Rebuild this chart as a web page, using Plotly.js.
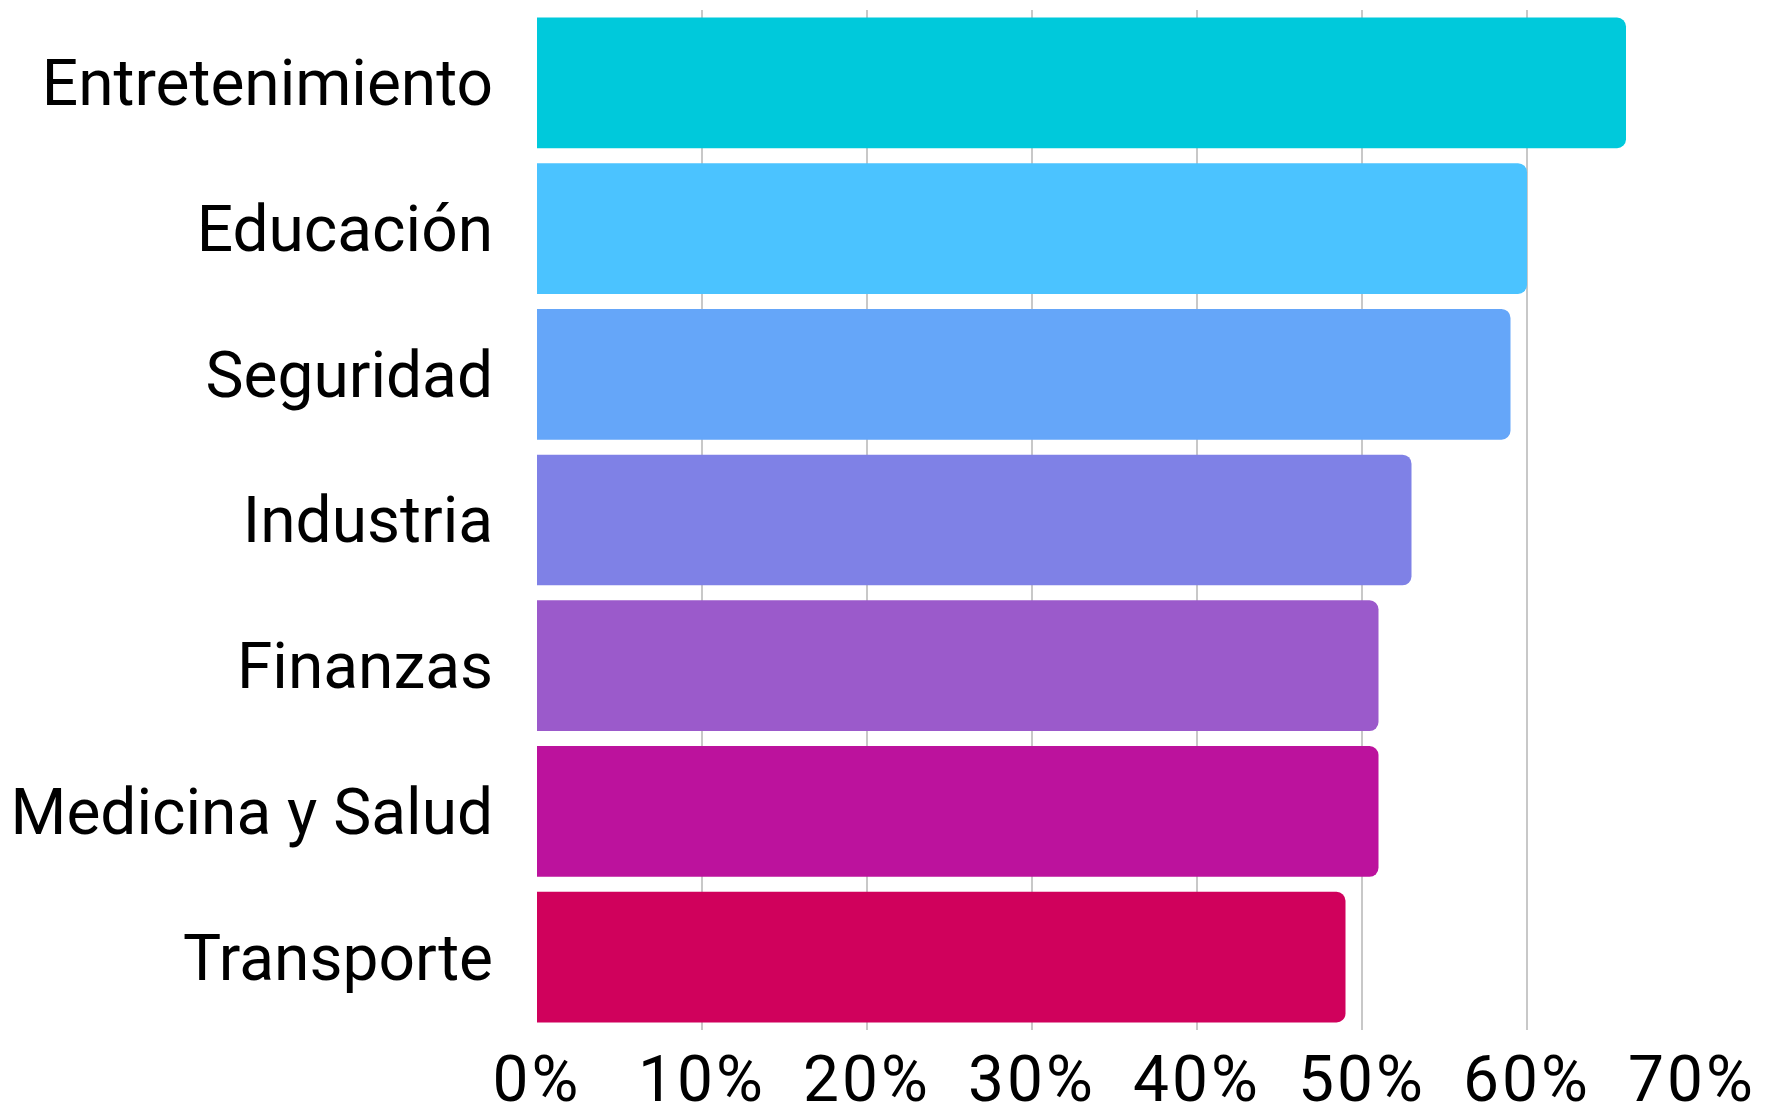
<!DOCTYPE html>
<html>
<head>
<meta charset="utf-8">
<script src="https://cdn.plot.ly/plotly-3.0.1.min.js"></script>
<style>
html,body{margin:0;padding:0;background:#fff;}
#chart{width:1765px;height:1111px;}
#chart .xtick text{letter-spacing:3px;}
</style>
</head>
<body>
<div id="chart"></div>
<script>
const categories = ["Entretenimiento", "Educación", "Seguridad", "Industria", "Finanzas", "Medicina y Salud", "Transporte"];
const shares = [0.66, 0.60, 0.59, 0.53, 0.51, 0.51, 0.49];
const barColors = ["#00C9DB", "#4BC3FF", "#65A6F9", "#7F81E6", "#9B5ACB", "#BC129D", "#D0015C"];

const trace = {
  type: "bar",
  orientation: "h",
  y: categories,
  x: shares,
  marker: { color: barColors, line: { width: 0 } },
  hoverinfo: "none"
};

const fontFam = "Roboto, 'Noto Sans', sans-serif";

const layout = {
  width: 1765,
  height: 1111,
  margin: { l: 537, r: 73, t: 10, b: 81 },
  paper_bgcolor: "#ffffff",
  plot_bgcolor: "#ffffff",
  showlegend: false,
  bargap: 0.103,
  barcornerradius: 9,
  font: { family: fontFam, color: "#000000", size: 64 },
  xaxis: {
    range: [0, 0.7],
    dtick: 0.1,
    tick0: 0,
    tickformat: ".0%",
    showgrid: true,
    gridcolor: "#c8c8c8",
    gridwidth: 1.5,
    zeroline: false,
    showline: false,
    ticks: "",
    ticklabelstandoff: 6,
    tickfont: { size: 64, family: fontFam, color: "#000" }
  },
  yaxis: {
    autorange: "reversed",
    showgrid: false,
    zeroline: false,
    showline: false,
    ticks: "",
    ticklabelstandoff: 43,
    tickfont: { size: 64, family: fontFam, color: "#000" }
  }
};

Plotly.newPlot("chart", [trace], layout, { displayModeBar: false, staticPlot: true });
</script>
</body>
</html>
